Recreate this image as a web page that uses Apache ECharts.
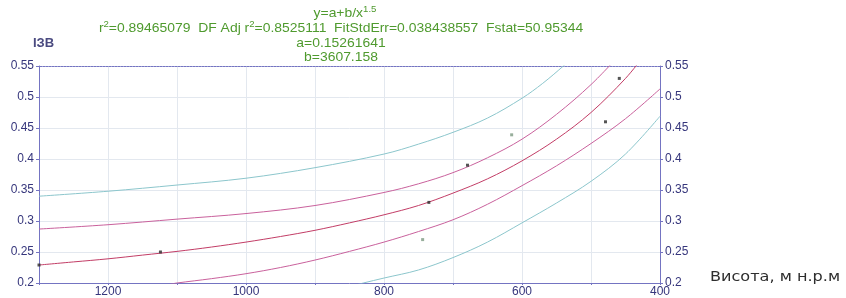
<!DOCTYPE html>
<html><head><meta charset="utf-8">
<script src="https://cdn.jsdelivr.net/npm/echarts@6/dist/echarts.min.js"></script>
<style>html,body{margin:0;background:#fff}#c{width:846px;height:298px}</style>
</head><body><div id="c"></div>
<script>
// ---- data ----
const xTicks = [1200, 1000, 800, 600, 400];
const yTicks = [0.2, 0.25, 0.3, 0.35, 0.4, 0.45, 0.5, 0.55];

const fitX = [1300,1250,1200,1150,1100,1050,1000,950,900,850,800,750,700,650,600,550,500,450,425];
const fitY = [0.229,0.234,0.239,0.245,0.251,0.258,0.266,0.275,0.285,0.297,0.310,0.325,0.345,0.368,0.397,0.432,0.475,0.530,0.564];

const confUpX = [1300,1200,1100,1000,900,800,750,700,650,600,550,500,460];
const confUpY = [0.287,0.294,0.303,0.312,0.325,0.346,0.360,0.378,0.402,0.432,0.472,0.520,0.566];

const confLoX = [1110,1100,1050,1000,950,900,850,800,750,700,650,600,550,500,450,400];
const confLoY = [0.198,0.200,0.207,0.215,0.225,0.237,0.251,0.266,0.283,0.302,0.327,0.357,0.389,0.425,0.465,0.513];

const predUpX = [1300,1200,1100,1000,900,800,750,700,650,600,570,540,510];
const predUpY = [0.340,0.348,0.358,0.369,0.386,0.408,0.424,0.443,0.466,0.498,0.522,0.550,0.580];

const predLoX = [840,830,800,750,700,650,600,550,500,450,400];
const predLoY = [0.197,0.200,0.208,0.221,0.241,0.266,0.297,0.329,0.364,0.408,0.469];

const ptX = [1300,1124,735,679,479,459];
const ptY = [0.229,0.250,0.330,0.390,0.460,0.530];
const outX = [744,615];
const outY = [0.270,0.439];

const titleLines = [
  'y=a+b/x{s|1.5}',
  'r{s|2}=0.89465079  DF Adj r{s|2}=0.8525111  FitStdErr=0.038438557  Fstat=50.95344',
  'a=0.15261641',
  'b=3607.158'
];
const yName = 'ІЗВ';
const xName = 'Висота, м н.р.м';

// ---- chart ----
const zip = (xs, ys) => xs.map((x, i) => [x, ys[i]]);
const FONT = '"Liberation Sans", Arial, sans-serif';
const AXIS = '#7474c2';
const LBL = '#36367c';
const GRID = '#e3e8ef';
const GREEN = '#4f9a2e';
const fmtY = v => String(Number(v.toFixed(2)));

const chart = echarts.init(document.getElementById('c'), null, {renderer: 'canvas'});
const line = (data, color) => ({
  type: 'line', data, smooth: 0.35, symbol: 'none', silent: true,
  lineStyle: {color, width: 1}, xAxisIndex: 0, yAxisIndex: 0, z: 3, clip: true
});

chart.setOption({
  animation: false,
  backgroundColor: '#ffffff',
  grid: {left: 39, top: 66, width: 621, height: 217, containLabel: false},
  xAxis: [{
    type: 'value', inverse: true, min: 400, max: 1300, interval: 100,
    position: 'bottom',
    axisLine: {show: true, lineStyle: {color: AXIS, width: 1}},
    axisTick: {show: true, length: 2, lineStyle: {color: AXIS}},
    axisLabel: {
      margin: 3, color: LBL, fontSize: 12, fontFamily: FONT,
      formatter: v => xTicks.includes(v) ? String(v) : ''
    },
    splitLine: {show: true, lineStyle: {color: GRID, width: 1}}
  }, {
    type: 'value', inverse: true, min: 400, max: 1300, interval: 100,
    position: 'top',
    axisLine: {show: true, lineStyle: {color: AXIS, width: 1, type: [2, 1]}},
    axisTick: {show: false}, axisLabel: {show: false}, splitLine: {show: false}
  }],
  yAxis: [{
    type: 'value', min: 0.2, max: 0.55, interval: 0.05, position: 'left',
    axisLine: {show: true, lineStyle: {color: AXIS, width: 1}},
    axisTick: {show: true, length: 3, lineStyle: {color: AXIS}},
    axisLabel: {margin: 5, color: LBL, fontSize: 12, fontFamily: FONT, formatter: fmtY},
    splitLine: {show: true, lineStyle: {color: GRID, width: 1}}
  }, {
    type: 'value', min: 0.2, max: 0.55, interval: 0.05, position: 'right',
    axisLine: {show: true, lineStyle: {color: AXIS, width: 1}},
    axisTick: {show: true, length: 3, lineStyle: {color: AXIS}},
    axisLabel: {margin: 5, color: LBL, fontSize: 12, fontFamily: FONT, formatter: fmtY},
    splitLine: {show: false}
  }],
  series: [
    line(zip(predUpX, predUpY), '#8cc6cc'),
    line(zip(predLoX, predLoY), '#8cc6cc'),
    line(zip(confUpX, confUpY), '#c9619c'),
    line(zip(confLoX, confLoY), '#c9619c'),
    line(zip(fitX, fitY), '#c23d66'),
    {type: 'scatter', data: zip(ptX, ptY), symbol: 'rect', symbolSize: 3,
     itemStyle: {color: '#2a2a2a'}, z: 5, clip: false, silent: true},
    {type: 'scatter', data: zip(outX, outY), symbol: 'rect', symbolSize: 3,
     itemStyle: {color: '#7d9a82'}, z: 5, clip: false, silent: true}
  ],
  graphic: [
    ...titleLines.map((t, i) => ({
      type: 'text', x: i === 0 ? 345 : 341, y: [13, 28, 43, 57][i], scaleX: 1.07,
      style: {
        text: t, align: 'center', verticalAlign: 'middle',
        fill: GREEN, font: '13px ' + FONT,
        rich: {s: {fontSize: 9, verticalAlign: 'top', fill: GREEN, padding: [0, 0, 7, 0]}}
      }
    })),
    {type: 'text', x: 33, y: 43, style: {text: yName, verticalAlign: 'middle',
      fill: '#4a4a80', font: 'bold 13px ' + FONT}},
    {type: 'text', x: 710, y: 277, scaleX: 1.15, style: {text: xName, verticalAlign: 'middle',
      fill: '#2e2e2e', font: '14px "DejaVu Sans", sans-serif'}}
  ]
});
</script></body></html>
